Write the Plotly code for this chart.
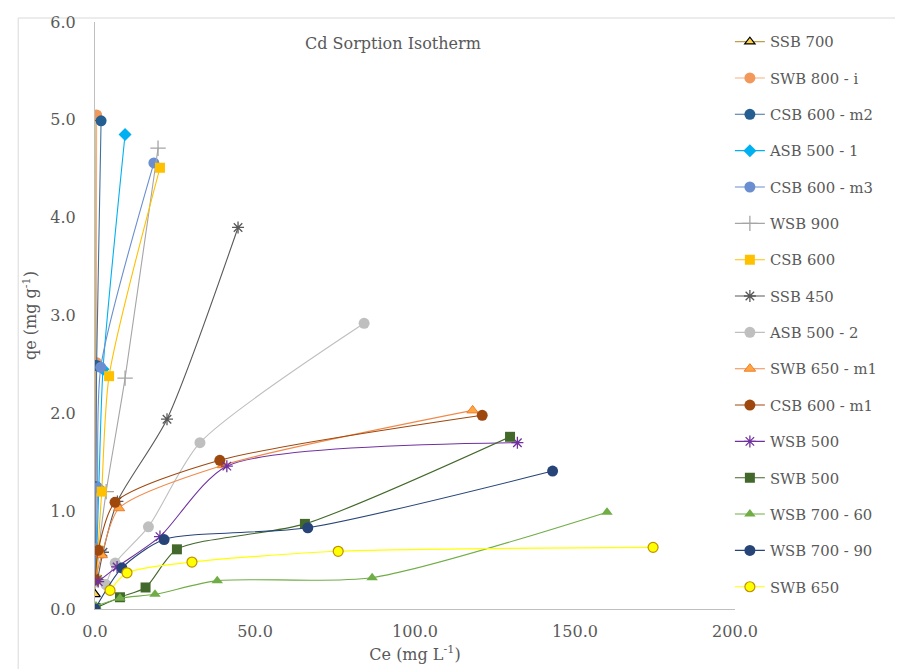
import plotly.graph_objects as go

names = ["SSB 700", "SWB 800 - i", "CSB 600 - m2", "ASB 500 - 1", "CSB 600 - m3",
         "WSB 900", "CSB 600", "SSB 450", "ASB 500 - 2", "SWB 650 - m1",
         "CSB 600 - m1", "WSB 500", "SWB 500", "WSB 700 - 60", "WSB 700 - 90", "SWB 650"]

ce_ssb700 = [0.05, 0.1, 0.15, 0.2, 0.3]
qe_ssb700 = [0.15, 0.62, 1.24, 2.49, 5.02]
ce_swb800i = [0.05, 0.1, 0.2, 0.4, 0.5]
qe_swb800i = [0.30, 0.62, 1.25, 2.52, 5.05]
ce_csb600m2 = [0.1, 0.2, 0.3, 0.5, 1.9]
qe_csb600m2 = [0.31, 0.62, 1.25, 2.49, 4.99]
ce_asb500_1 = [0.3, 0.6, 1.2, 2.5, 9.4]
qe_asb500_1 = [0.30, 0.62, 1.24, 2.45, 4.85]
ce_csb600m3 = [0.2, 0.4, 0.8, 1.8, 18.4]
qe_csb600m3 = [0.31, 0.62, 1.24, 2.47, 4.56]
ce_wsb900 = [0.6, 1.2, 3.5, 9.4, 19.7]
qe_wsb900 = [0.30, 0.60, 1.20, 2.36, 4.71]
ce_csb600 = [0.4, 0.9, 2.1, 4.4, 20.3]
qe_csb600 = [0.30, 0.60, 1.20, 2.38, 4.51]
ce_ssb450 = [0.8, 2.5, 7.0, 22.5, 44.7]
qe_ssb450 = [0.30, 0.58, 1.10, 1.94, 3.90]
ce_asb500_2 = [3.4, 6.3, 16.7, 32.8, 84.1]
qe_asb500_2 = [0.25, 0.47, 0.84, 1.70, 2.92]
ce_swb650m1 = [0.1, 2.1, 7.5, 40.0, 118.0]
qe_swb650m1 = [0.30, 0.55, 1.03, 1.47, 2.03]
ce_csb600m1 = [0.1, 1.0, 6.25, 39.0, 121.0]
qe_csb600m1 = [0.30, 0.60, 1.09, 1.52, 1.98]
ce_wsb500 = [1.0, 6.9, 20.3, 41.2, 132.0]
qe_wsb500 = [0.28, 0.43, 0.74, 1.46, 1.70]
ce_swb500 = [0.2, 7.8, 15.8, 25.6, 65.6, 129.7]
qe_swb500 = [0.01, 0.12, 0.22, 0.61, 0.87, 1.76]
ce_wsb700_60 = [0.3, 7.8, 18.75, 38.2, 86.6, 160.0]
qe_wsb700_60 = [0.03, 0.11, 0.15, 0.29, 0.32, 0.99]
ce_wsb700_90 = [0.0, 8.4, 21.6, 66.5, 143.0]
qe_wsb700_90 = [0.0, 0.42, 0.71, 0.83, 1.41]
ce_swb650 = [4.7, 10.0, 30.3, 76.0, 174.4]
qe_swb650 = [0.19, 0.37, 0.48, 0.59, 0.63]

ce_all = [ce_ssb700, ce_swb800i, ce_csb600m2, ce_asb500_1, ce_csb600m3, ce_wsb900, ce_csb600,
          ce_ssb450, ce_asb500_2, ce_swb650m1, ce_csb600m1, ce_wsb500, ce_swb500,
          ce_wsb700_60, ce_wsb700_90, ce_swb650]
qe_all = [qe_ssb700, qe_swb800i, qe_csb600m2, qe_asb500_1, qe_csb600m3, qe_wsb900, qe_csb600,
          qe_ssb450, qe_asb500_2, qe_swb650m1, qe_csb600m1, qe_wsb500, qe_swb500,
          qe_wsb700_60, qe_wsb700_90, qe_swb650]

# (line color, marker symbol, marker fill, marker outline, outline width, size)
styles = [
    ("#BFA048", "triangle-up", "#FFD24D", "#000000", 1.2, 9),
    ("#F4B183", "circle", "#F0995A", "#F0995A", 0, 11),
    ("#41719C", "circle", "#255E91", "#255E91", 0, 11),
    ("#00B0F0", "diamond", "#00B0F0", "#00B0F0", 0, 10),
    ("#6A8ED0", "circle", "#6A8ED0", "#6A8ED0", 0, 11),
    ("#A5A5A5", "cross-thin-open", "#A5A5A5", "#A5A5A5", 1.3, 11),
    ("#FFC000", "square", "#FFC000", "#FFC000", 0, 10),
    ("#595959", "asterisk-open", "#595959", "#595959", 1.3, 10),
    ("#BFBFBF", "circle", "#BFBFBF", "#BFBFBF", 0, 11),
    ("#F08A4B", "triangle-up", "#FFA53D", "#ED7D31", 1.0, 10),
    ("#9E480E", "circle", "#9E480E", "#9E480E", 0, 11),
    ("#7030A0", "asterisk-open", "#7030A0", "#7030A0", 1.3, 10),
    ("#43682B", "square", "#43682B", "#43682B", 0, 10),
    ("#70AD47", "triangle-up", "#70AD47", "#70AD47", 0, 10),
    ("#264478", "circle", "#264478", "#264478", 0, 11),
    ("#FFFF00", "circle", "#FFFF00", "#BF9000", 1.2, 10),
]

fig = go.Figure()
for i, (nm, xs, ys, st) in enumerate(zip(names, ce_all, qe_all, styles)):
    lc, sym, fill, outl, ow, sz = st
    fig.add_trace(go.Scatter(
        x=xs, y=ys, name=nm, mode="lines+markers", legendgroup=f"g{i}",
        line=dict(color=lc, width=1.1, shape="spline", smoothing=0.7),
        marker=dict(symbol=sym, color=fill, size=sz, line=dict(color=outl, width=ow)),
    ))

gray = "#595959"
ff = "DejaVu Serif"

fig.update_layout(
    width=903, height=669,
    margin=dict(l=87, r=176, t=14, b=68),
    paper_bgcolor="white", plot_bgcolor="white",
    font=dict(family=ff, size=16, color=gray),
    showlegend=True,
    legend=dict(x=0.992, y=0.994, xanchor="left", yanchor="top",
                font=dict(family=ff, size=14.8, color=gray),
                tracegroupgap=14.1, bgcolor="rgba(0,0,0,0)"),
    xaxis=dict(range=[0, 200], tickvals=[0, 50, 100, 150, 200],
               ticktext=["0.0", "50.0", "100.0", "150.0", "200.0"],
               tickfont=dict(family=ff, size=16, color=gray),
               showgrid=False, zeroline=False, showline=True, linecolor="#BFBFBF", linewidth=1,
               ticks="", ticklabelstandoff=8, automargin=False,
               title=dict(text="Ce (mg L<sup>-1</sup>)", standoff=8,
                          font=dict(family=ff, size=16, color=gray))),
    yaxis=dict(range=[0, 6], tickvals=[0, 1, 2, 3, 4, 5, 6],
               ticktext=["0.0", "1.0", "2.0", "3.0", "4.0", "5.0", "6.0"],
               tickfont=dict(family=ff, size=16, color=gray),
               showgrid=False, zeroline=False, showline=True, linecolor="#BFBFBF", linewidth=1,
               ticks="", ticklabelstandoff=15, automargin=False,
               title=dict(text="qe (mg g<sup>-1</sup>)", standoff=9,
                          font=dict(family=ff, size=16, color=gray))),
    annotations=[dict(text="Cd Sorption Isotherm", xref="paper", yref="paper",
                      x=0.466, y=0.964, xanchor="center", yanchor="middle", showarrow=False,
                      font=dict(family=ff, size=16, color=gray))],
    shapes=[dict(type="rect", xref="paper", yref="paper",
                 x0=-0.12, x1=1.3, y0=-0.2, y1=1.0068,
                 line=dict(color="#D9D9D9", width=1), layer="below")],
)

fig.write_html("out.html")
